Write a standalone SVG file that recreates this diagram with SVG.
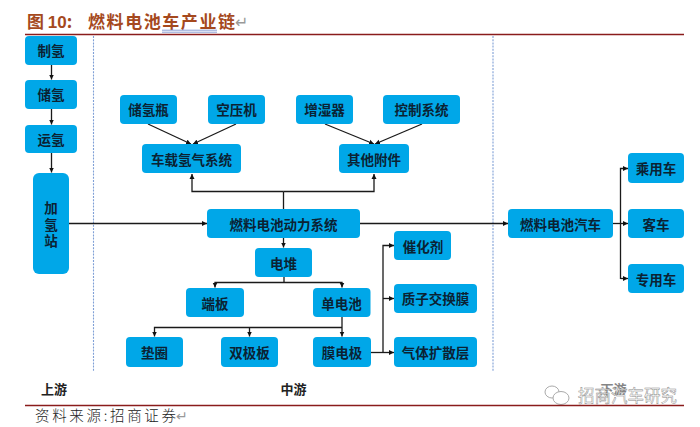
<svg xmlns="http://www.w3.org/2000/svg" width="700" height="427" viewBox="0 0 700 427">
<style>
.n{fill:#00a7e8}
.t{font:bold 13.5px "Noto Sans CJK SC","Liberation Sans",sans-serif;fill:#0b2233;text-anchor:middle;dominant-baseline:central}
.c{fill:none;stroke:#1a1a1a;stroke-width:1.3}
.a{marker-end:url(#m)}
.d{fill:none;stroke:#7f9fd6;stroke-width:1.1;stroke-dasharray:2 1.2}
.r{fill:none;stroke:#8a1c1c;stroke-width:1.5}
.l{font:bold 13px "Noto Sans CJK SC",sans-serif;fill:#222;text-anchor:middle;dominant-baseline:central}
.g{font:16px "DejaVu Sans",sans-serif;fill:#999}
</style>
<defs><marker id="m" markerWidth="6" markerHeight="6" refX="5" refY="3" orient="auto" markerUnits="userSpaceOnUse"><path d="M0 0.500L5 3L0 5.500z" fill="#111"/></marker></defs>
<rect width="700" height="427" fill="#fff"/>
<g id="header">
<text x="27" y="28" font-family="'Noto Sans CJK SC',sans-serif" font-size="17" font-weight="700" fill="#a5491d">图 <tspan font-family="'Liberation Sans',sans-serif">10</tspan>:</text>
<text x="88" y="28" font-family="'Noto Sans CJK SC',sans-serif" font-size="17" font-weight="700" fill="#a5491d" textLength="147">燃料电池车产业链</text>
<text x="235" y="28" class="g">↵</text>
<path d="M162 30.200H217M162 32.200H217" fill="none" stroke="#7f95d0" stroke-width=".9"/>
<path class="r" d="M25 34.500H684"/>
</g>
<g id="dividers"><path class="d" d="M93.500 36V372M493 36V372"/></g>
<g id="connectors">
<path class="c a" d="M51.500 65V79.500"/>
<path class="c a" d="M51.500 109V124.500"/>
<path class="c a" d="M51.500 153V172.500"/>
<path class="c a" d="M148 124L191 144"/>
<path class="c a" d="M236 124L193 144"/>
<path class="c a" d="M325 124L374 144"/>
<path class="c a" d="M422 124L375 144"/>
<path class="c" d="M283.500 209V191.500"/>
<path class="c a" d="M283.500 191.500H192V174"/>
<path class="c a" d="M283.500 191.500H374V174"/>
<path class="c a" d="M69 223.500H207"/>
<path class="c a" d="M360 223.500H508"/>
<path class="c a" d="M283.500 238V247.500"/>
<path class="c" d="M284 277V282.500"/>
<path class="c a" d="M284 282.500H215V287.500"/>
<path class="c a" d="M284 282.500H342V287.500"/>
<path class="c a" d="M342 317V336.500"/>
<path class="c a" d="M342 327.500H154.500V336.500"/>
<path class="c a" d="M249.500 327.500V336.500"/>
<path class="c a" d="M371 352.500H394"/>
<path class="c a" d="M383 352.500V245.500H394"/>
<path class="c a" d="M383 298.500H394"/>
<path class="c" d="M613 223.500H620.500"/>
<path class="c a" d="M620.500 279V168.500H628"/>
<path class="c a" d="M620.500 223.500H628"/>
<path class="c a" d="M620.500 278.500H628"/>
</g>
<g id="n1"><rect class="n" x="25" y="36" width="52" height="29" rx="4"/><text class="t" x="51" y="50">制氢</text></g>
<g id="n2"><rect class="n" x="25" y="80" width="52" height="29" rx="4"/><text class="t" x="51" y="94">储氢</text></g>
<g id="n3"><rect class="n" x="25" y="125" width="52" height="28" rx="4"/><text class="t" x="51" y="138.500">运氢</text></g>
<g id="n4"><rect class="n" x="33" y="173" width="36" height="101" rx="6"/><text class="t" x="51" y="207">加<tspan x="51" dy="16.500">氢</tspan><tspan x="51" dy="16">站</tspan></text></g>
<g id="n5"><rect class="n" x="120" y="95" width="57" height="29" rx="4"/><text class="t" x="148.500" y="109">储氢瓶</text></g>
<g id="n6"><rect class="n" x="208" y="95" width="57" height="29" rx="4"/><text class="t" x="236.500" y="109">空压机</text></g>
<g id="n7"><rect class="n" x="296" y="95" width="57" height="29" rx="4"/><text class="t" x="324.500" y="109">增湿器</text></g>
<g id="n8"><rect class="n" x="383" y="95" width="77" height="29" rx="4"/><text class="t" x="421.500" y="109">控制系统</text></g>
<g id="n9"><rect class="n" x="142" y="144" width="99" height="29" rx="4"/><text class="t" x="191.500" y="158.500">车载氢气系统</text></g>
<g id="n10"><rect class="n" x="339" y="144" width="70" height="29" rx="4"/><text class="t" x="374" y="158.500">其他附件</text></g>
<g id="n11"><rect class="n" x="207" y="209" width="153" height="29" rx="4"/><text class="t" x="283.500" y="223.500">燃料电池动力系统</text></g>
<g id="n12"><rect class="n" x="255" y="248" width="57" height="29" rx="4"/><text class="t" x="283.500" y="262.500">电堆</text></g>
<g id="n13"><rect class="n" x="186" y="288" width="58" height="29" rx="4"/><text class="t" x="215" y="302.500">端板</text></g>
<g id="n14"><rect class="n" x="313" y="288" width="57.500" height="29" rx="4"/><text class="t" x="341.500" y="302.500">单电池</text></g>
<g id="n15"><rect class="n" x="126" y="337" width="57" height="30" rx="4"/><text class="t" x="154.500" y="352">垫圈</text></g>
<g id="n16"><rect class="n" x="221" y="337" width="57" height="30" rx="4"/><text class="t" x="249.500" y="352">双极板</text></g>
<g id="n17"><rect class="n" x="313" y="337" width="58" height="30" rx="4"/><text class="t" x="342" y="352">膜电极</text></g>
<g id="n18"><rect class="n" x="394" y="231" width="57" height="29" rx="4"/><text class="t" x="423" y="245.500">催化剂</text></g>
<g id="n19"><rect class="n" x="394" y="284" width="83" height="29" rx="4"/><text class="t" x="435.500" y="298">质子交换膜</text></g>
<g id="n20"><rect class="n" x="394" y="337" width="83" height="30" rx="4"/><text class="t" x="435.500" y="352">气体扩散层</text></g>
<g id="n21"><rect class="n" x="508" y="209" width="105" height="29" rx="4"/><text class="t" x="560.500" y="223.500">燃料电池汽车</text></g>
<g id="n22"><rect class="n" x="628" y="153" width="56" height="30" rx="4"/><text class="t" x="656" y="168">乘用车</text></g>
<g id="n23"><rect class="n" x="628" y="209" width="56" height="29" rx="4"/><text class="t" x="656" y="223.500">客车</text></g>
<g id="n24"><rect class="n" x="628" y="264" width="56" height="29" rx="4"/><text class="t" x="656" y="278.500">专用车</text></g>
<g id="labels">
<text class="l" x="54" y="388">上游</text><text class="l" x="293.500" y="388">中游</text><text class="l" x="613.500" y="388">下游</text>
</g>
<g id="watermark">
<rect x="541" y="382" width="142" height="22" fill="#fff" opacity=".45"/>
<ellipse cx="552" cy="392" rx="7" ry="6" fill="#fff" stroke="#aaa"/>
<ellipse cx="561" cy="398" rx="8" ry="6.500" fill="#fff" stroke="#aaa"/>
<text x="578" y="402" font-family="'Noto Sans CJK SC',sans-serif" font-size="16.500" fill="#fff" stroke="#888" stroke-width=".45">招商汽车研究</text>
</g>
<g id="footer">
<path class="r" d="M25 405.500H684"/>
<text x="35" y="421" font-family="'Noto Sans CJK SC',sans-serif" font-size="14.500" font-weight="300" fill="#222" textLength="141">资料来源:招商证券</text>
<text x="176" y="421" class="g" style="font-size:14px">↵</text>
</g>
</svg>
